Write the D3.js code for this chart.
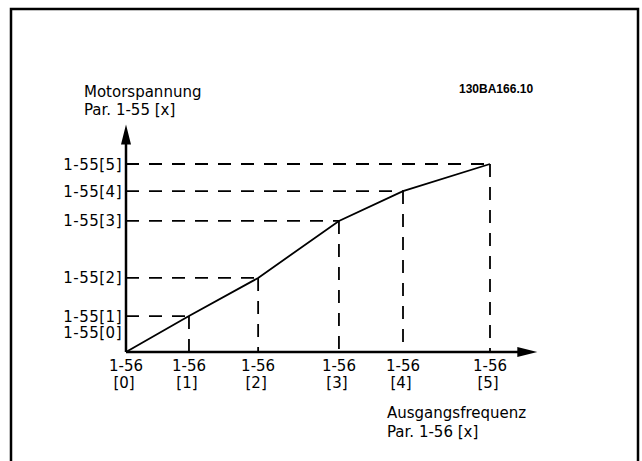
<!DOCTYPE html>
<html>
<head>
<meta charset="utf-8">
<script src="https://cdn.jsdelivr.net/npm/d3@7"></script>
<style>
  html, body { margin: 0; padding: 0; background: #fff; }
  svg { display: block; }
  text { font-family: "DejaVu Sans", Verdana, sans-serif; fill: #000; }
</style>
</head>
<body>
<div id="chart"></div>
<script>
// ---- data ----
const pointIndex = [0, 1, 2, 3, 4, 5];
const freqValues = [0, 17.3, 36.3, 58.5, 76.1, 100];      // Ausgangsfrequenz, relative
const voltValues = [0, 19.1, 39.4, 69.7, 85.6, 100];      // Motorspannung, relative
const yTickLabels = ["1-55[0]", "1-55[1]", "1-55[2]", "1-55[3]", "1-55[4]", "1-55[5]"];
const xTickTop = ["1-56", "1-56", "1-56", "1-56", "1-56", "1-56"];
const xTickBottom = ["[0]", "[1]", "[2]", "[3]", "[4]", "[5]"];
const yTitle = ["Motorspannung", "Par. 1-55 [x]"];
const xTitle = ["Ausgangsfrequenz", "Par. 1-56 [x]"];
const figureCode = "130BA166.10";

const W = 642, H = 461;
const svg = d3.select("#chart").append("svg").attr("width", W).attr("height", H);

// frame
svg.append("path")
  .attr("d", "M11,470V9H638V470")
  .attr("fill", "none").attr("stroke", "#000").attr("stroke-width", 2.5);

const x = d3.scaleLinear().domain([0, 100]).range([126, 490]);
const y = d3.scaleLinear().domain([0, 100]).range([352, 164]);

const pts = pointIndex.map(i => ({ i, f: freqValues[i], v: voltValues[i] }));

// dashed guide lines
const dash = "13,10";
svg.append("g").selectAll("line").data(pts.filter(d => d.i > 0)).join("line")
  .attr("x1", x(0)).attr("x2", d => x(d.f))
  .attr("y1", d => y(d.v)).attr("y2", d => y(d.v))
  .attr("stroke", "#000").attr("stroke-width", 1.8).attr("stroke-dasharray", dash);
svg.append("g").selectAll("line").data(pts.filter(d => d.i > 0)).join("line")
  .attr("x1", d => x(d.f)).attr("x2", d => x(d.f))
  .attr("y1", d => y(d.v)).attr("y2", y(0))
  .attr("stroke", "#000").attr("stroke-width", 1.8).attr("stroke-dasharray", dash);

// curve
svg.append("path")
  .datum(pts)
  .attr("d", d3.line().x(d => x(d.f)).y(d => y(d.v)))
  .attr("fill", "none").attr("stroke", "#000").attr("stroke-width", 1.8);

// axes
const xEnd = 113, yEnd = 121;
svg.append("line").attr("x1", x(0)).attr("x2", x(xEnd) - 18).attr("y1", y(0)).attr("y2", y(0))
  .attr("stroke", "#000").attr("stroke-width", 2.5);
svg.append("line").attr("x1", x(0)).attr("x2", x(0)).attr("y1", y(0)).attr("y2", y(yEnd) + 18)
  .attr("stroke", "#000").attr("stroke-width", 2.5);
// arrowheads
const xt = x(xEnd), yt = y(yEnd);
svg.append("path").attr("d", `M${xt},${y(0)}L${xt - 20},${y(0) - 5}L${xt - 20},${y(0) + 5}Z`).attr("fill", "#000");
svg.append("path").attr("d", `M${x(0)},${yt}L${x(0) - 5},${yt + 20}L${x(0) + 5},${yt + 20}Z`).attr("fill", "#000");

// y tick labels
const fs = 15;
svg.append("g").selectAll("text").data(pts).join("text")
  .attr("x", x(0) - 4)
  .attr("y", d => d.i === 0 ? y(voltValues[1]) + 22 : y(d.v) + 5.5)
  .attr("text-anchor", "end").attr("font-size", fs)
  .style("letter-spacing", "0.5px")
  .text(d => yTickLabels[d.i]);

// x tick labels
const xl = svg.append("g");
xl.selectAll("text.top").data(pts).join("text").attr("class", "top")
  .attr("x", d => x(d.f)).attr("y", y(0) + 19)
  .attr("text-anchor", "middle").attr("font-size", fs)
  .text(d => xTickTop[d.i]);
xl.selectAll("text.bot").data(pts).join("text").attr("class", "bot")
  .attr("x", d => x(d.f) - 2).attr("y", y(0) + 36)
  .attr("text-anchor", "middle").attr("font-size", fs)
  .text(d => xTickBottom[d.i]);

// titles
svg.append("g").selectAll("text").data(yTitle).join("text")
  .attr("x", 84).attr("y", (d, i) => 97 + i * 18)
  .attr("font-size", fs).text(d => d);
svg.append("g").selectAll("text").data(xTitle).join("text")
  .attr("x", 387).attr("y", (d, i) => 418 + i * 19)
  .attr("font-size", fs).text(d => d);

svg.append("text").attr("x", 459).attr("y", 93)
  .style("font-family", "'Liberation Sans', Arial, sans-serif")
  .attr("font-size", 12).attr("font-weight", "bold")
  .text(figureCode);
</script>
</body>
</html>
